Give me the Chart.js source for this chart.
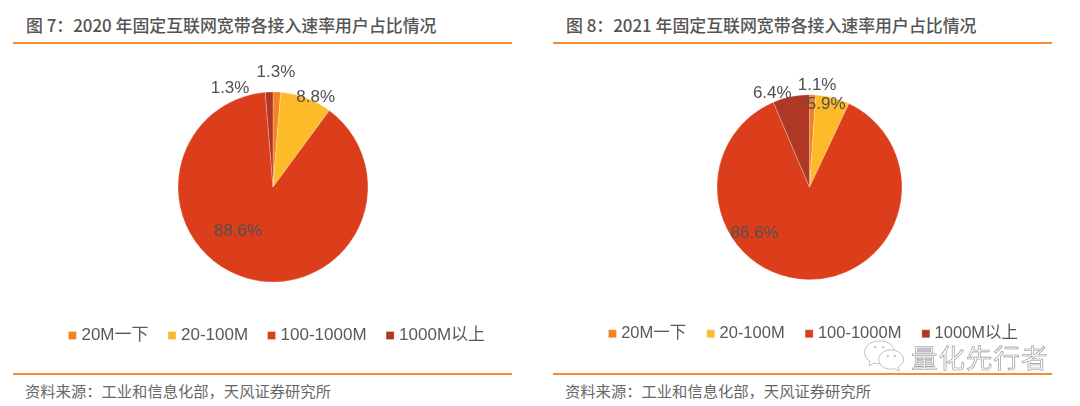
<!DOCTYPE html>
<html lang="zh">
<head>
<meta charset="utf-8">
<script src="https://cdn.jsdelivr.net/npm/chart.js@4/dist/chart.umd.min.js"></script>
<style>
  html, body { margin: 0; padding: 0; background: #fff; }
  body { position: relative; width: 1080px; height: 406px; overflow: hidden;
         font-family: "Noto Sans CJK SC", "Liberation Sans", sans-serif; }
  .title { position: absolute; top: 12px; font-size: 16.9px; font-weight: 500; color: #555; white-space: nowrap; }
  .source { position: absolute; top: 379px; font-size: 15.3px; color: #666; white-space: nowrap; }
  .rule { position: absolute; width: 499px; background: #F58A30; }
  canvas { position: absolute; }
  .mark { position: absolute; left: 911px; top: 342px; font-size: 26.5px; letter-spacing: 1px; line-height: 30px;
          color: rgba(255,255,255,0.6); -webkit-text-stroke: 0.6px #8c8c8c; white-space: nowrap; }
  svg { position: absolute; left: 862px; top: 337px; }
</style>
</head>
<body>
<div class="title" style="left:26px">图 7：2020 年固定互联网宽带各接入速率用户占比情况</div>
<div class="rule" style="left:13px;top:42px;height:2px"></div>
<div class="title" style="left:566px">图 8：2021 年固定互联网宽带各接入速率用户占比情况</div>
<div class="rule" style="left:553px;top:42px;height:2px"></div>

<canvas id="pie2020" width="500" height="304" style="left:26px;top:50px"></canvas>
<canvas id="pie2021" width="500" height="302" style="left:562px;top:50px"></canvas>

<div class="rule" style="left:13px;top:373px;height:1.5px"></div>
<div class="rule" style="left:553px;top:373px;height:1.5px"></div>
<div class="source" style="left:25px">资料来源：工业和信息化部，天风证券研究所</div>
<div class="source" style="left:565px">资料来源：工业和信息化部，天风证券研究所</div>

<!-- watermark over the second legend -->
<svg width="46" height="38" viewBox="0 0 52 36" fill="#fff" stroke="#aaa" stroke-width="0.8">
  <path d="M20 1C10 1 3 7 3 14c0 4 2 8 6 10l-1 5 6-3c2 .5 4 .8 6 .8 10 0 17-6 17-13S30 1 20 1z"/>
  <path d="M33 11c-8 0-14 5-14 11s6 11 14 11c2 0 3-.2 5-.7l4 3-1-5c4-2 6-5 6-8 0-6-6-11-14-11z"/>
  <circle cx="15" cy="8" r="1"/><circle cx="24" cy="8" r="1"/>
  <circle cx="29" cy="18" r="1"/><circle cx="37" cy="18" r="1"/>
</svg>
<div class="mark">量化先行者</div>

<script>
const categories = ['20M一下', '20-100M', '100-1000M', '1000M以上'];
const values2020 = [1.3, 8.8, 88.6, 1.3];
const values2021 = [1.1, 5.9, 86.6, 6.4];
const sliceColors = ['#F58220', '#FDBB2A', '#DC3E1B', '#AE3825'];

// nudges from each slice's own centre point to where its % label sits
const nudges2020 = [[1, -67], [26, -45], [-22, -1], [-41, -51]];
const nudges2021 = [[6, -56], [5, -38], [-54, 0], [-28, -49]];

const FONT = '"Liberation Sans", "Noto Sans CJK SC", sans-serif';

// draws "x.x%" next to each slice, Excel-style
const pctLabels = {
  id: 'pctLabels',
  afterDatasetsDraw(chart, args, opts) {
    const { ctx } = chart;
    const values = chart.data.datasets[0].data;
    ctx.save();
    ctx.font = '17px ' + FONT;
    ctx.fillStyle = '#505050';
    ctx.textAlign = 'center';
    ctx.textBaseline = 'middle';
    chart.getDatasetMeta(0).data.forEach((arc, i) => {
      const p = arc.getCenterPoint();
      ctx.fillText(values[i].toFixed(1) + '%', p.x + opts.nudges[i][0], p.y + opts.nudges[i][1]);
    });
    ctx.restore();
  },
};

// the legend sits a little right of the pie in the reference
const legendShift = {
  id: 'legendShift',
  afterLayout(chart, args, opts) {
    chart.legend.left += opts.dx;
    chart.legend.right += opts.dx;
  },
};

function drawPie(id, values, nudges, radius, pad, legend) {
  new Chart(document.getElementById(id), {
    type: 'pie',
    data: {
      labels: categories,
      datasets: [{
        data: values,
        backgroundColor: sliceColors,
        borderColor: 'rgba(255,255,255,0.5)',
        borderWidth: 0.5,
        radius,
      }],
    },
    options: {
      responsive: false,
      animation: false,
      layout: { padding: pad },
      plugins: {
        tooltip: { enabled: false },
        legend: {
          position: 'bottom',
          labels: {
            usePointStyle: true,
            pointStyle: 'rect',
            boxWidth: 1,
            boxHeight: 8,
            padding: legend.gap,
            color: '#595959',
            font: { family: FONT, size: legend.size },
          },
        },
        pctLabels: { nudges },
        legendShift: { dx: legend.dx },
      },
    },
    plugins: [pctLabels, legendShift],
  });
}

drawPie('pie2020', values2020, nudges2020, 95, { right: 6, top: 20 }, { size: 17, gap: 23, dx: 5.5 });
drawPie('pie2021', values2021, nudges2021, 92.5, { right: 5, top: 23 }, { size: 16.5, gap: 24, dx: 5.5 });
</script>
</body>
</html>
